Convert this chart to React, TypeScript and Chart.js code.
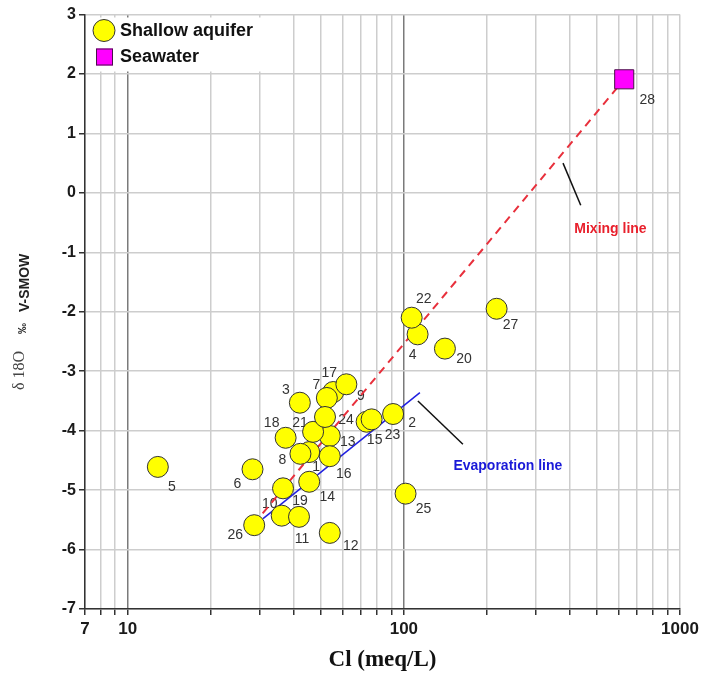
import React, { useEffect, useRef } from 'react';
import { Chart, registerables } from 'chart.js';

Chart.register(...registerables);

// ---- data ----
const shallowIds = ['1','2','3','4','5','6','7','8','9','10','11','12','13','14','15','16','17','18','19','20','21','22','23','24','25','26','27'];
const shallowCl = [45.4, 91.4, 42.0, 112.1, 12.85, 28.3, 55.5, 42.2, 52.6, 36.1, 41.7, 53.9, 53.9, 45.4, 73.3, 53.9, 61.9, 37.3, 36.5, 140.8, 46.9, 106.7, 76.4, 51.8, 101.4, 28.7, 216.7];
const shallowD18O = [-4.36, -3.72, -3.53, -2.38, -4.61, -4.65, -3.35, -4.39, -3.45, -5.43, -5.45, -5.72, -4.09, -4.86, -3.85, -4.43, -3.22, -4.12, -4.97, -2.62, -4.02, -2.10, -3.81, -3.77, -5.06, -5.59, -1.95];

const seawaterIds = ['28'];
const seawaterCl = [628];
const seawaterD18O = [1.91];

const mixingLineCl = [30.8, 628];
const mixingLineD18O = [-5.39, 1.91];
const evaporationLineCl = [30.9, 114.3];
const evaporationLineD18O = [-5.48, -3.36];

const mixingPointerCl = [377, 437];
const mixingPointerD18O = [0.5, -0.21];
const evapPointerCl = [112.4, 163.6];
const evapPointerD18O = [-3.5, -4.23];

const xTickValues = [7, 8, 9, 10, 20, 30, 40, 50, 60, 70, 80, 90, 100, 200, 300, 400, 500, 600, 700, 800, 900, 1000];
const xTickLabels = [7, 10, 100, 1000];

// label offsets in px (dx, dy) for each sample number
const shallowLabelDx = [7, 19, -14, -5, 14, -15, -17, -18, 34, -12, 3, 21, 18, 18, 8, 14, -17, -14, 17, 19, -13, 12, 21, 21, 18, -19, 14];
const shallowLabelDy = [15, 9, -13, 21, 20, 15, -7, 6, -2, -12, 22, 13, 6, 15, 18, 18, -11, -15, 13, 11, -9, -19, 16, 3, 15, 10, 16];
const seawaterLabelDx = [23];
const seawaterLabelDy = [21];

const SANS = '"Liberation Sans", Arial, Helvetica, sans-serif';
const SERIF = '"Liberation Serif", "Times New Roman", serif';

const zip = (xs: number[], ys: number[]) => xs.map((x, i) => ({ x, y: ys[i] }));

const overlayPlugin = {
  id: 'overlay',
  beforeDatasetsDraw(chart: any) {
    const { ctx, scales } = chart;
    const xs = scales.x, ys = scales.y;
    ctx.save();
    ctx.font = `14px ${SANS}`;
    ctx.fillStyle = '#333';
    ctx.textAlign = 'center';
    ctx.textBaseline = 'middle';
    shallowIds.forEach((id, i) => {
      const px = xs.getPixelForValue(shallowCl[i]);
      const py = ys.getPixelForValue(shallowD18O[i]);
      ctx.fillText(id, px + shallowLabelDx[i], py + shallowLabelDy[i]);
    });
    seawaterIds.forEach((id, i) => {
      const px = xs.getPixelForValue(seawaterCl[i]);
      const py = ys.getPixelForValue(seawaterD18O[i]);
      ctx.fillText(id, px + seawaterLabelDx[i], py + seawaterLabelDy[i]);
    });
    ctx.restore();
  },
  afterDraw(chart: any) {
    const { ctx, scales, chartArea } = chart;
    const xs = scales.x, ys = scales.y;
    ctx.save();
    // annotation texts
    ctx.font = `bold 14px ${SANS}`;
    ctx.textAlign = 'center';
    ctx.textBaseline = 'middle';
    ctx.fillStyle = '#e8202c';
    ctx.fillText('Mixing line', xs.getPixelForValue(560), ys.getPixelForValue(-0.61));
    ctx.fillStyle = '#1a1ad8';
    ctx.fillText('Evaporation line', xs.getPixelForValue(238), ys.getPixelForValue(-4.6));

    // legend
    const lx = chartArea.left + 1, ly = chartArea.top + 3;
    ctx.fillStyle = '#ffffff';
    ctx.fillRect(lx, ly, 180, 54);
    ctx.beginPath();
    ctx.arc(lx + 18, ly + 13, 11, 0, Math.PI * 2);
    ctx.fillStyle = '#ffff00';
    ctx.fill();
    ctx.lineWidth = 1;
    ctx.strokeStyle = '#333';
    ctx.stroke();
    ctx.fillStyle = '#ff00ff';
    ctx.fillRect(lx + 10, ly + 31, 17, 17);
    ctx.strokeStyle = '#4a104a';
    ctx.strokeRect(lx + 10.5, ly + 31.5, 16, 16);
    ctx.font = `bold 18px ${SANS}`;
    ctx.fillStyle = '#111';
    ctx.textAlign = 'left';
    ctx.fillText('Shallow aquifer', lx + 34, ly + 14);
    ctx.fillText('Seawater', lx + 34, ly + 40);

    // y-axis title
    ctx.translate(22, 390);
    ctx.rotate(-Math.PI / 2);
    ctx.textAlign = 'left';
    ctx.textBaseline = 'middle';
    ctx.fillStyle = '#444';
    ctx.font = `16px ${SERIF}`;
    ctx.fillText('δ 18O', 0, -2);
    ctx.fillStyle = '#222';
    ctx.font = `bold 11px ${SANS}`;
    ctx.fillText('‰', 56, 1);
    ctx.font = `bold 14px ${SANS}`;
    ctx.fillText('V-SMOW', 78, 3);
    ctx.restore();
  },
};

export default function App() {
  const ref = useRef<HTMLCanvasElement | null>(null);
  useEffect(() => {
    if (!ref.current) return;
    const chart = new Chart(ref.current, {
      type: 'scatter',
      data: {
        datasets: [
          {
            label: 'Shallow aquifer',
            data: zip(shallowCl, shallowD18O),
            pointRadius: 10.5,
            pointBackgroundColor: '#ffff00',
            pointBorderColor: '#333',
            pointBorderWidth: 1,
            order: 0,
          },
          {
            label: 'Seawater',
            data: zip(seawaterCl, seawaterD18O),
            pointStyle: 'rect',
            pointRadius: 13.5,
            pointBackgroundColor: '#ff00ff',
            pointBorderColor: '#4a104a',
            pointBorderWidth: 1,
            order: 0,
          },
          {
            type: 'line',
            label: 'Mixing line',
            data: zip(mixingLineCl, mixingLineD18O),
            borderColor: '#e8303c',
            borderWidth: 2,
            borderDash: [8, 6],
            pointRadius: 0,
            showLine: true,
            order: 2,
          },
          {
            type: 'line',
            label: 'Evaporation line',
            data: zip(evaporationLineCl, evaporationLineD18O),
            borderColor: '#2020e0',
            borderWidth: 1.5,
            pointRadius: 0,
            showLine: true,
            order: 2,
          },
          {
            type: 'line',
            label: 'pointer1',
            data: zip(mixingPointerCl, mixingPointerD18O),
            borderColor: '#111',
            borderWidth: 1.5,
            pointRadius: 0,
            showLine: true,
            order: 2,
          },
          {
            type: 'line',
            label: 'pointer2',
            data: zip(evapPointerCl, evapPointerD18O),
            borderColor: '#111',
            borderWidth: 1.5,
            pointRadius: 0,
            showLine: true,
            order: 2,
          },
        ] as any,
      },
      options: {
        responsive: false,
        animation: false,
        devicePixelRatio: 1,
        layout: { padding: { top: 14, right: 37, left: 0, bottom: 0 } },
        plugins: { legend: { display: false }, tooltip: { enabled: false } },
        scales: {
          x: {
            type: 'logarithmic',
            min: 7,
            max: 1000,
            afterBuildTicks: (scale: any) => {
              scale.ticks = xTickValues.map((v) => ({ value: v }));
            },
            afterFit: (scale: any) => {
              scale.height = 68;
            },
            ticks: {
              autoSkip: false,
              maxRotation: 0,
              minRotation: 0,
              padding: 4,
              color: '#1a1a1a',
              font: { family: SANS, size: 17, weight: 'bold' },
              callback: (v: any) => (xTickLabels.includes(Number(v)) ? String(v) : ''),
            },
            grid: {
              color: (c: any) => (c.tick && (c.tick.value === 10 || c.tick.value === 100) ? '#7a7a7a' : '#cdcdcd'),
              lineWidth: 1.5,
              tickColor: '#333',
              tickLength: 6,
              tickWidth: 1.5,
            },
            border: { color: '#333', width: 1.5 },
            title: {
              display: true,
              text: 'Cl (meq/L)',
              color: '#111',
              font: { family: SERIF, size: 23, weight: 'bold' },
              padding: { top: 0, bottom: 3 },
            },
          },
          y: {
            type: 'linear',
            min: -7,
            max: 3,
            afterFit: (scale: any) => {
              scale.width = 85;
            },
            ticks: {
              stepSize: 1,
              padding: 3,
              color: '#1a1a1a',
              font: { family: SANS, size: 16, weight: 'bold' },
            },
            grid: {
              color: '#cdcdcd',
              lineWidth: 1.5,
              tickColor: '#333',
              tickLength: 6,
              tickWidth: 1.5,
            },
            border: { color: '#333', width: 1.5 },
          },
        },
      } as any,
      plugins: [overlayPlugin],
    });
    return () => chart.destroy();
  }, []);

  return (
    <div style={{ position: 'absolute', left: 0, top: 0, width: 717, height: 677, background: '#fff' }}>
      <canvas ref={ref} width={717} height={677} style={{ width: 717, height: 677, display: 'block' }} />
    </div>
  );
}
